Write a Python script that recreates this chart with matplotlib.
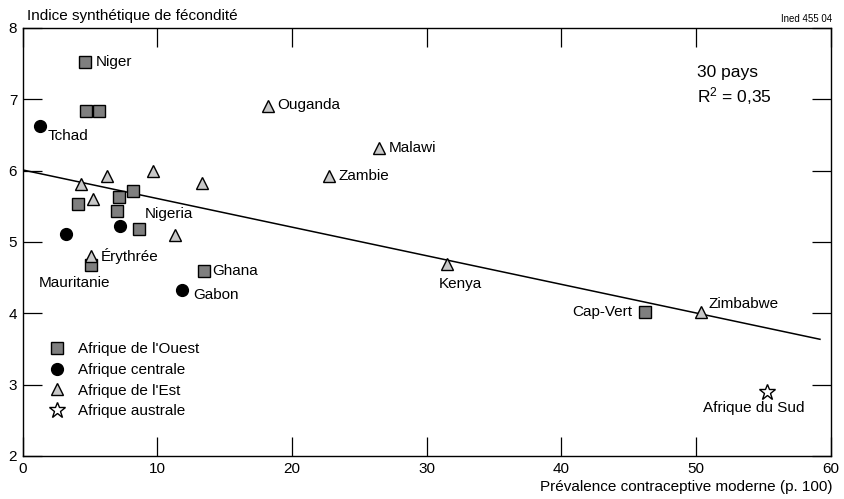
import matplotlib
matplotlib.use('Agg')
import matplotlib.pyplot as plt

plt.rcParams['font.family'] = ['Liberation Sans', 'DejaVu Sans']

# Afrique de l'Ouest (carrés)
ouest_x = [4.63, 4.73, 5.69, 4.13, 8.21, 7.17, 6.98, 8.66, 5.05, 13.48, 46.2]
ouest_y = [7.52, 6.83, 6.83, 5.53, 5.71, 5.63, 5.43, 5.18, 4.68, 4.60, 4.02]
# Afrique centrale (ronds)
centre_x = [1.26, 3.24, 7.22, 11.85]
centre_y = [6.63, 5.11, 5.22, 4.33]
# Afrique de l'Est (triangles)
est_x = [4.31, 6.28, 9.70, 13.31, 5.24, 11.33, 5.07, 18.19, 26.43, 22.76, 31.5, 50.37]
est_y = [5.81, 5.92, 6.00, 5.83, 5.60, 5.10, 4.80, 6.90, 6.32, 5.93, 4.69, 4.02]
# Afrique australe (étoile)
sud_x = [55.3]
sud_y = [2.90]

# droite de régression
reg_a = 6.01
reg_b = -0.0401
reg_x = [0, 59.2]

# étiquettes : (nom, x, y)
labels = [
    ('Niger', 4.63, 7.52),
    ('Tchad', 1.26, 6.63),
    ('Nigeria', 8.21, 5.71),
    ('Érythrée', 5.07, 4.80),
    ('Mauritanie', 5.05, 4.68),
    ('Ghana', 13.48, 4.60),
    ('Gabon', 11.85, 4.33),
    ('Ouganda', 18.19, 6.90),
    ('Malawi', 26.43, 6.32),
    ('Zambie', 22.76, 5.93),
    ('Kenya', 31.5, 4.69),
    ('Cap-Vert', 46.2, 4.02),
    ('Zimbabwe', 50.37, 4.02),
    ('Afrique du Sud', 55.3, 2.90),
]
# décalages en points et alignement
offs = {
    'Niger': (8, 0, 'left'),
    'Tchad': (6, -7.5, 'left'),
    'Nigeria': (8, -16, 'left'),
    'Érythrée': (7, 0, 'left'),
    'Mauritanie': (-12, -13, 'center'),
    'Ghana': (6, 0, 'left'),
    'Gabon': (8, -4, 'left'),
    'Ouganda': (7, 1, 'left'),
    'Malawi': (7, 0, 'left'),
    'Zambie': (7, 0, 'left'),
    'Kenya': (10, -14, 'center'),
    'Cap-Vert': (-9, 0, 'right'),
    'Zimbabwe': (5, 6, 'left'),
    'Afrique du Sud': (-10, -12, 'center'),
}

fig = plt.figure(figsize=(8.44, 4.99), dpi=100)
ax = fig.add_axes([0.0269, 0.0862, 0.9574, 0.8577])

ax.plot(reg_x, [reg_a + reg_b * x for x in reg_x], color='black', lw=1.1, zorder=1)

ax.plot(ouest_x, ouest_y, 's', ms=8, mfc='#7f7f7f', mec='black', mew=1.0,
        ls='none', label="Afrique de l'Ouest", zorder=3)
ax.plot(centre_x, centre_y, 'o', ms=8.5, mfc='black', mec='black',
        ls='none', label='Afrique centrale', zorder=3)
ax.plot(est_x, est_y, '^', ms=9, mfc='#c8c8c8', mec='black', mew=1.0,
        ls='none', label="Afrique de l'Est", zorder=3)
ax.plot(sud_x, sud_y, '*', ms=12, mfc='white', mec='black', mew=1.0,
        ls='none', label='Afrique australe', zorder=3)

for name, x, y in labels:
    dx, dy, ha = offs[name]
    ax.annotate(name, (x, y), xytext=(dx, dy), textcoords='offset points',
                ha=ha, va='center', fontsize=11)

ax.set_xlim(0, 60)
ax.set_ylim(2, 8)
ax.set_xticks([0, 10, 20, 30, 40, 50, 60])
ax.set_yticks([2, 3, 4, 5, 6, 7, 8])
ax.tick_params(direction='in', length=14, width=0.9, top=True, right=True,
               labelsize=11, pad=4)
for s in ax.spines.values():
    s.set_linewidth(1.0)

fig.text(0.032, 0.968, 'Indice synthétique de fécondité', fontsize=11,
         ha='left', va='center')
fig.text(0.986, 0.962, 'Ined 455 04', fontsize=7, ha='right', va='center')
fig.text(0.986, 0.024, 'Prévalence contraceptive moderne (p. 100)',
         fontsize=11, ha='right', va='center')

ax.text(0.834, 0.897, '30 pays', transform=ax.transAxes, fontsize=12.5,
        ha='left', va='center')
ax.text(0.834, 0.84, '$\\mathregular{R^2}$ = 0,35', transform=ax.transAxes,
        fontsize=12.5, ha='left', va='center')

ax.legend(loc='lower left', bbox_to_anchor=(0.023, 0.074), frameon=False,
          fontsize=11, handletextpad=0.8, labelspacing=0.43,
          handlelength=1.2, borderaxespad=0)

fig.savefig('out.png', dpi=100)
